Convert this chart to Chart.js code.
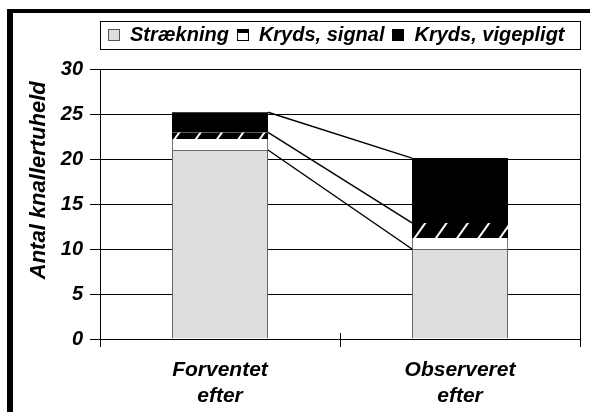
<!DOCTYPE html>
<html><head><meta charset="utf-8">
<script src="https://cdn.jsdelivr.net/npm/chart.js@4/dist/chart.umd.min.js"></script>
<style>
html,body{margin:0;padding:0;background:#fff;overflow:hidden;}
#wrap{position:relative;width:590px;height:412px;}
#frame{position:absolute;left:7px;top:9px;width:600px;height:420px;border-left:6px solid #000;border-top:4px solid #000;pointer-events:none;}
canvas{display:block;}
</style></head><body>
<div id="wrap"><canvas id="c" width="590" height="412"></canvas><div id="frame"></div></div>
<script>
// ---- data ----
const categories = [['Forventet', 'efter'], ['Observeret', 'efter']];
const seriesNames = ['Strækning', 'Kryds, signal', 'Kryds, vigepligt'];
const straekning = [21, 10];
const krydsSignal = [1.95, 2.9];
const krydsVigepligt = [2.25, 7.2];
const yTicks = [0, 5, 10, 15, 20, 25, 30];
const yTitle = 'Antal knallertuheld  ';

// ---- styles ----
const FONT = "'Liberation Sans', Arial, sans-serif";
const GREY = '#dedede';

function icon(kind) {
  const c = document.createElement('canvas');
  c.width = 12; c.height = 12;
  const g = c.getContext('2d');
  if (kind === 0) { g.fillStyle = GREY; g.fillRect(0, 0, 12, 12); g.strokeStyle = '#555'; g.strokeRect(0.5, 0.5, 11, 11); }
  if (kind === 1) { g.fillStyle = '#fff'; g.fillRect(0, 0, 12, 12); g.fillStyle = '#000'; g.fillRect(0, 0, 12, 4); g.strokeStyle = '#000'; g.strokeRect(0.5, 0.5, 11, 11); }
  if (kind === 2) { g.fillStyle = '#000'; g.fillRect(0, 0, 12, 12); }
  return c;
}

const decor = {
  id: 'decor',
  beforeDatasetsDraw(chart) {
    const ctx = chart.ctx, a = chart.chartArea;
    ctx.save();
    ctx.strokeStyle = '#000'; ctx.lineWidth = 1;
    // plot right border
    ctx.beginPath();
    ctx.moveTo(Math.round(a.right) + 0.5, a.top); ctx.lineTo(Math.round(a.right) + 0.5, a.bottom);
    ctx.stroke();
    // x ticks above axis
    const xs = chart.scales.x, n = categories.length;
    for (let i = 0; i <= n; i++) {
      const px = Math.round(xs.left + i * xs.width / n) + 0.5;
      ctx.beginPath(); ctx.moveTo(px, a.bottom - 6); ctx.lineTo(px, a.bottom); ctx.stroke();
    }
    ctx.restore();
  },
  afterDraw(chart) {
    // legend frame
    const ctx = chart.ctx, a = chart.chartArea, lg = chart.legend;
    const cy = lg.legendHitBoxes.length ? lg.legendHitBoxes[0].top + lg.legendHitBoxes[0].height / 2 : lg.top + 18;
    ctx.save();
    ctx.strokeStyle = '#000'; ctx.lineWidth = 1;
    ctx.strokeRect(Math.round(a.left) + 0.5, Math.round(cy - 14) + 0.5, Math.round(a.right - a.left), 28);
    ctx.restore();
  },
  afterDatasetsDraw(chart) {
    const ctx = chart.ctx;
    ctx.save();
    // hatch band on top part of signal segments
    const sm = chart.getDatasetMeta(1);
    sm.data.forEach(bar => {
      const p = bar.getProps(['x', 'y', 'base', 'width'], true);
      const left = p.x - p.width / 2, right = p.x + p.width / 2;
      const bb = p.base - 11;
      if (bb <= p.y) return;
      ctx.save();
      ctx.beginPath(); ctx.rect(left, p.y, p.width, bb - p.y); ctx.clip();
      ctx.fillStyle = '#000'; ctx.fillRect(left, p.y, p.width, bb - p.y);
      ctx.strokeStyle = '#fff'; ctx.lineWidth = 2;
      for (let sx = left + 2; sx < right; sx += 21.3) {
        ctx.beginPath(); ctx.moveTo(sx, bb + 1); ctx.lineTo(sx + 12, bb - 16); ctx.stroke();
      }
      ctx.restore();
    });
    // series lines
    ctx.strokeStyle = '#000'; ctx.lineWidth = 1.5;
    for (let d = 0; d < 3; d++) {
      const m = chart.getDatasetMeta(d).data;
      for (let i = 0; i < m.length - 1; i++) {
        const a = m[i].getProps(['x', 'y', 'width'], true), b = m[i + 1].getProps(['x', 'y', 'width'], true);
        ctx.beginPath(); ctx.moveTo(a.x + a.width / 2, a.y); ctx.lineTo(b.x - b.width / 2, b.y); ctx.stroke();
      }
    }
    ctx.restore();
  }
};

Chart.defaults.font.family = FONT;
Chart.defaults.color = '#000';

new Chart(document.getElementById('c'), {
  type: 'bar',
  data: {
    labels: categories,
    datasets: [
      { label: seriesNames[0], data: straekning, backgroundColor: GREY, borderColor: '#666', borderWidth: 1, pointStyle: icon(0) },
      { label: seriesNames[1], data: krydsSignal, backgroundColor: '#fff', borderColor: '#777', borderWidth: 1, pointStyle: icon(1) },
      { label: seriesNames[2], data: krydsVigepligt, backgroundColor: '#000', borderColor: '#000', borderWidth: 0, pointStyle: icon(2) }
    ]
  },
  options: {
    responsive: false,
    animation: false,
    events: [],
    layout: { padding: { left: 14, right: 10, top: 17, bottom: 0 } },
    datasets: { bar: { barPercentage: 0.4, categoryPercentage: 1 } },
    plugins: {
      tooltip: { enabled: false },
      legend: {
        position: 'top', align: 'start', fullSize: false, weight: 1000,
        labels: {
          usePointStyle: true, boxWidth: 12, boxHeight: 12, padding: 8,
          font: { size: 20, weight: 'bold', style: 'italic' }, color: '#000'
        }
      },
      subtitle: {
        display: true, text: ' ', position: 'top', weight: 500,
        font: { size: 1, lineHeight: 1 }, padding: { top: 0, bottom: 13 }
      }
    },
    scales: {
      x: {
        stacked: true,
        grid: { offset: true, drawOnChartArea: false, color: '#000', tickLength: 8 },
        border: { color: '#000', width: 1 },
        ticks: { font: { size: 21, weight: 'bold', style: 'italic', lineHeight: 1.2 }, color: '#000', padding: 11, maxRotation: 0 },
        afterFit(s) { s.height = 73; }
      },
      y: {
        stacked: true, min: 0, max: 30,
        afterBuildTicks(s) { s.ticks = yTicks.map(v => ({ value: v })); },
        grid: { color: '#000', tickLength: 10 },
        border: { color: '#000', width: 1 },
        ticks: { font: { size: 20, weight: 'bold', style: 'italic' }, color: '#000', padding: 7 },
        title: { display: true, text: yTitle, align: 'end', font: { size: 22, weight: 'bold', style: 'italic' }, color: '#000', padding: { top: 12, bottom: 0 } },
        afterFit(s) { s.width = 86; }
      }
    }
  },
  plugins: [decor]
});
</script>
</body></html>
